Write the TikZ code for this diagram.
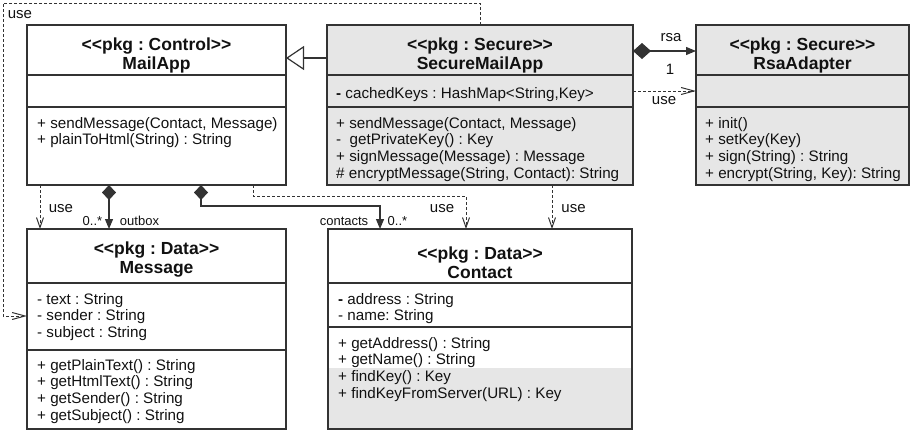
\documentclass[tikz,border=0pt]{standalone}
\usepackage{fontspec}
\newfontfamily\uml{Liberation Sans}
\usetikzlibrary{arrows.meta}
\definecolor{linec}{HTML}{333333}
\definecolor{boxgray}{HTML}{E6E6E6}
\definecolor{txt}{HTML}{111111}
\newcommand\umlrows[3]{\foreach \t [count=\i from 0] in {#3} {\node[row] at (#1, #2+\i*16.8) {\t};}}
\tikzset{
 box/.style={draw=linec, line width=1.3pt, anchor=north west, inner sep=0pt, outer sep=0pt},
 divl/.style={draw=linec, line width=1.3pt},
 row/.style={anchor=base west, inner sep=0pt, font=\uml\frenchspacing\fontsize{15.2}{17}\selectfont, text=txt},
 head/.style={anchor=base, inner sep=0pt, font=\uml\frenchspacing\bfseries\fontsize{17.5}{19}\selectfont, text=txt},
 lbl/.style={inner sep=0pt, font=\uml\fontsize{15}{17}\selectfont, text=txt},
 slbl/.style={inner sep=0pt, font=\uml\fontsize{13}{15}\selectfont, text=txt},
 dep/.style={draw=linec, line width=1pt, dash pattern=on 3pt off 2pt, -{Straight Barb[length=10pt,width=7pt]}},
 deph/.style={draw=linec, line width=1pt, dash pattern=on 3pt off 2pt, -{Straight Barb[length=13pt,width=7pt]}},
 comp/.style={draw=linec, line width=1.2pt, {Diamond[length=15pt,width=14pt]}-{Triangle[length=10pt,width=8pt]}},
 inh/.style={draw=linec, line width=1.2pt, -{Triangle[open,length=18pt,width=24pt,fill=white]}}
}
\begin{document}
\frenchspacing
\begin{tikzpicture}[x=1pt,y=-1pt]
\useasboundingbox (0,0) rectangle (910,431);
% boxes
\node[box, minimum width=259pt, minimum height=160pt] (mail) at (27,25) {};
\node[box, fill=boxgray, minimum width=306pt, minimum height=160pt] (smail) at (327,25) {};
\node[box, fill=boxgray, minimum width=213pt, minimum height=160pt] (rsa) at (696,25) {};
\node[box, minimum width=259pt, minimum height=200pt] (msg) at (27,229) {};
\fill[boxgray] (328,368) rectangle (632,429);
\node[box, minimum width=304pt, minimum height=200pt] (contact) at (328,229) {};
% dividers
\foreach \n/\a/\b in {mail/50/82, smail/50/82, rsa/50/82, msg/54/121, contact/54/98}{
  \draw[divl] ([yshift=-\a pt]\n.north west) -- ([yshift=-\a pt]\n.north east);
  \draw[divl] ([yshift=-\b pt]\n.north west) -- ([yshift=-\b pt]\n.north east);
}
% headers
\node[head] at (156.5,50) {<<pkg : Control>>};
\node[head] at (156.5,69) {MailApp};
\node[head] at (480,50) {<<pkg : Secure>>};
\node[head] at (480,69) {SecureMailApp};
\node[head] at (802.5,50) {<<pkg : Secure>>};
\node[head] at (802.5,69) {RsaAdapter};
\node[head] at (156.5,254) {<<pkg : Data>>};
\node[head] at (156.5,273) {Message};
\node[head] at (480,259) {<<pkg : Data>>};
\node[head] at (480,278) {Contact};
% compartments
\umlrows{37}{128}{{+ sendMessage(Contact, Message)},{+ plainToHtml(String) : String}}
\umlrows{336}{98}{{\textbf{-} cachedKeys : HashMap<String,Key>}}
\umlrows{336}{128}{{+ sendMessage(Contact, Message)},{- \ getPrivateKey() : Key},{+ signMessage(Message) : Message},{\# encryptMessage(String, Contact): String}}
\umlrows{705}{128}{{+ init()},{+ setKey(Key)},{+ sign(String) : String},{+ encrypt(String, Key): String}}
\umlrows{37}{304}{{- text : String},{- sender : String},{- subject : String}}
\umlrows{37}{370}{{+ getPlainText() : String},{+ getHtmlText() : String},{+ getSender() : String},{+ getSubject() : String}}
\umlrows{338}{304}{{\textbf{-} address : String},{- name: String}}
\umlrows{338}{348}{{+ getAddress() : String},{+ getName() : String},{+ findKey() : Key},{+ findKeyFromServer(URL) : Key}}
% connectors
\coordinate (tl) at (3,3);
\draw[deph] (smail.north) |- (tl) |- ([yshift=13pt]msg.west);
\node[lbl] (u0) at (20,15) {use};
\draw[inh] ([yshift=-33pt]smail.north west) -- ([yshift=-33pt]mail.north east);
\draw[comp, {Diamond[length=18pt,width=16pt]}-{Triangle[length=10pt,width=8pt]}] ([yshift=-26pt]smail.north east) -- ([yshift=-26pt]rsa.north west);
\node[lbl] (lrsa) at (671,38) {rsa};
\node[lbl] (l1) at (670,69) {1};
\draw[deph] ([yshift=-66pt]smail.north east) -- ([yshift=-66pt]rsa.north west);
\node[lbl] (u1) at (664,101) {use};
\draw[dep] ([xshift=13pt]mail.south west) -- ([xshift=13pt]msg.north west);
\node[lbl] (u2) at (61,209) {use};
\draw[comp] ([xshift=82pt]mail.south west) -- ([xshift=82pt]msg.north west);
\node[slbl] (m1) at (92.5,221) {0..*};
\node[slbl] (m2) at (139.5,221) {outbox};
\draw[comp] ([xshift=174pt]mail.south west) -- ++(0,21) -| ([xshift=52pt]contact.north west);
\node[slbl] (m3) at (344,221) {contacts};
\node[slbl] (m4) at (397.5,221) {0..*};
\draw[dep] ([xshift=226pt]mail.south west) -- ++(0,11) -| ([xshift=138pt]contact.north west);
\node[lbl] (u3) at (442,209) {use};
\draw[dep] ([xshift=225pt]smail.south west) -- ([xshift=224pt]contact.north west);
\node[lbl] (u4) at (573.5,209) {use};
\end{tikzpicture}
\end{document}
